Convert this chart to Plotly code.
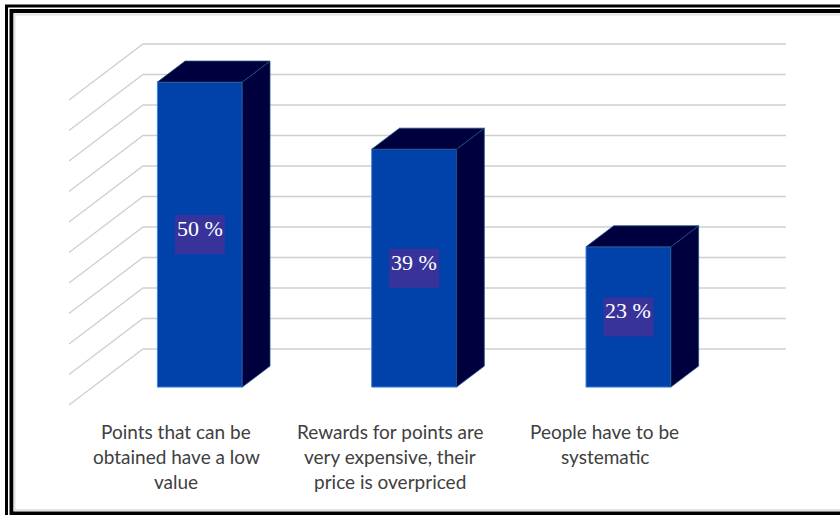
import plotly.graph_objects as go

# ---- data ----
categories = [
    "Points that can be<br>obtained have a low<br>value",
    "Rewards for points are<br>very expensive, their<br>price is overpriced",
    "People have to be<br>systematic",
]
values = [50, 39, 23]
tick_values = [0, 5, 10, 15, 20, 25, 30, 35, 40, 45, 50]
label_suffix = " %"

# ---- layout constants (pseudo-3D projection) ----
W, H = 840, 515
PX_X = 214.3          # px per category slot
PX_Y = 6.1            # px per percent
X0PX, Y0PX = 69, 405  # front-left floor corner in px
DX = 74 / PX_X        # full depth shift (x, data units)
DY = 56 / PX_Y        # full depth shift (y, data units)
D_FRONT, D_BACK = 0.32, 0.695   # bar front/back depth fractions
HW = 0.198            # bar half width in category units

FRONT = "#0041aa"
SIDE = "#00003f"
GRID = "#cfcfcf"
TEXT = "#404040"
LABEL_BG = "#38339a"

fig = go.Figure()

# gridlines: left wall diagonals + back wall horizontals (base axes, drawn first)
gx, gy = [], []
n = len(categories)
for v in tick_values:
    gx += [0, DX, n + DX, None]
    gy += [v, v + DY, v + DY, None]
fig.add_trace(go.Scatter(x=gx, y=gy, mode="lines",
                         line=dict(color=GRID, width=1.3),
                         hoverinfo="skip", showlegend=False,
                         xaxis="x", yaxis="y"))

bdx = (D_BACK - D_FRONT) * DX
bdy = (D_BACK - D_FRONT) * DY
for i, v in enumerate(values):
    cx = i + 0.5 + D_FRONT * DX
    base = D_FRONT * DY
    xl, xr = cx - HW, cx + HW
    # side face
    fig.add_trace(go.Scatter(
        x=[xr, xr, xr + bdx, xr + bdx, xr],
        y=[base, base + v, base + v + bdy, base + bdy, base],
        fill="toself", fillcolor=SIDE, mode="lines",
        line=dict(color="#1d4f7a", width=0.8),
        hoverinfo="skip", showlegend=False, xaxis="x2", yaxis="y2"))
    # top face
    fig.add_trace(go.Scatter(
        x=[xl, xr, xr + bdx, xl + bdx, xl],
        y=[base + v, base + v, base + v + bdy, base + v + bdy, base + v],
        fill="toself", fillcolor=SIDE, mode="lines",
        line=dict(color="#1d4f7a", width=0.8),
        hoverinfo="skip", showlegend=False, xaxis="x2", yaxis="y2"))

# front faces
fig.add_trace(go.Bar(
    x=[i + 0.5 + D_FRONT * DX for i in range(n)],
    y=values,
    base=[D_FRONT * DY] * n,
    width=[2 * HW] * n,
    marker=dict(color=FRONT, line=dict(color="#3f86d8", width=1)),
    hoverinfo="skip", showlegend=False, xaxis="x2", yaxis="y2"))

annotations = []
shapes = []
for i, v in enumerate(values):
    lx = i + 0.5 + D_FRONT * DX
    ly = D_FRONT * DY + v / 2
    # label background box (pixel-sized, anchored at the bar centre)
    shapes.append(dict(
        type="rect", xref="x2", yref="y2", xsizemode="pixel", ysizemode="pixel",
        xanchor=lx, yanchor=ly, x0=-25, x1=25, y0=-19.5, y1=19.5,
        fillcolor=LABEL_BG, line=dict(width=0), layer="above"))
    # label text, in the upper part of the box
    annotations.append(dict(
        x=lx, y=ly, xref="x", yref="y", text=f"{v}{label_suffix}", showarrow=False,
        font=dict(family="Liberation Serif", size=22, color="white"),
        xanchor="center", yanchor="middle", yshift=6))

# category labels (each line placed separately)
for i, cat in enumerate(categories):
    for j, line in enumerate(cat.split("<br>")):
        annotations.append(dict(
            x=i + 0.5, y=(Y0PX - (431 + 25 * j)) / PX_Y,
            xref="x", yref="y", text=line, showarrow=False,
            font=dict(family="Lato", size=19, color=TEXT),
            xanchor="center", yanchor="middle"))

def px(xp, yp):
    return xp / W, 1 - yp / H

for (x0, y0, x1, y1, col, w) in [
    (6.5, 6, 860, 530, "black", 3),
    (11.5, 11, 860, 513.5, "black", 4),
    (14.5, 14.5, 860, 510, "#e2e2e2", 2),
]:
    a, b = px(x0, y0)
    c, d = px(x1, y1)
    shapes.append(dict(type="rect", xref="paper", yref="paper",
                       x0=a, y0=d, x1=c, y1=b,
                       line=dict(color=col, width=w), fillcolor="rgba(0,0,0,0)"))

xr_ = [-X0PX / PX_X, (W - X0PX) / PX_X]
yr_ = [(Y0PX - H) / PX_Y, Y0PX / PX_Y]
fig.update_layout(
    width=W, height=H,
    margin=dict(l=0, r=0, t=0, b=0),
    paper_bgcolor="white", plot_bgcolor="white",
    xaxis=dict(range=xr_, visible=False, fixedrange=True),
    yaxis=dict(range=yr_, visible=False, fixedrange=True),
    xaxis2=dict(range=xr_, visible=False, fixedrange=True, overlaying="x"),
    yaxis2=dict(range=yr_, visible=False, fixedrange=True, overlaying="y"),
    annotations=annotations, shapes=shapes, showlegend=False,
)

fig.write_html("out.html", config={"displayModeBar": False},
               post_script="document.body.style.margin='0';document.body.style.overflow='hidden';")
